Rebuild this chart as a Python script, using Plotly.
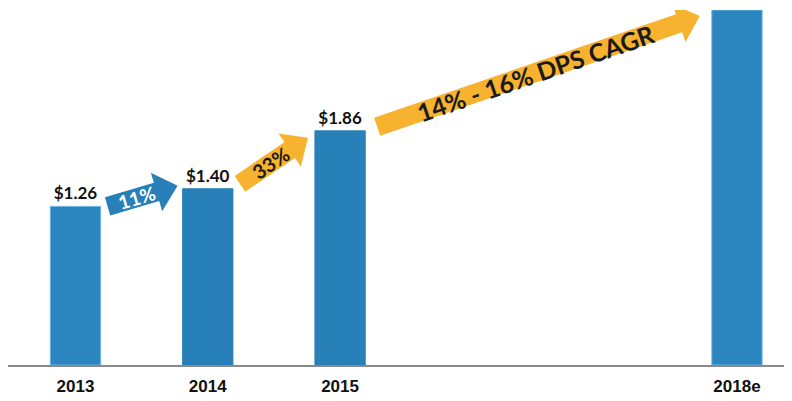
import math
import plotly.graph_objects as go

# ---- data ----
years = [2013, 2014, 2015, 2018]
tick_labels = ["2013", "2014", "2015", "2018e"]
dps = [1.26, 1.40, 1.86, 2.82]
value_labels = ["$1.26", "$1.40", "$1.86", ""]
growth_labels = ["11%", "33%", "14% - 16% DPS CAGR"]

# ---- layout constants (page body adds an 8px offset) ----
W, H = 784, 393
ML, MR, MT, MB = 0, 0, 2, 36
XR = [2012.49, 2018.416]
YR = [0, 2.82]
BAR_W = 0.38
PW, PH = W - ML - MR, H - MT - MB

def x2px(x):
    return ML + (x - XR[0]) / (XR[1] - XR[0]) * PW

def y2px(y):
    return MT + (1 - (y - YR[0]) / (YR[1] - YR[0])) * PH

def px2x(p):
    return XR[0] + (p - ML) / PW * (XR[1] - XR[0])

def px2y(p):
    return YR[0] + (1 - (p - MT) / PH) * (YR[1] - YR[0])

fill_main = "#2b86bf"
fill_mid = "#2780b7"
colors = [fill_main, fill_mid, fill_mid, fill_main]
line_cols = ["#6cb4e0", fill_mid, fill_mid, "#6cb4e0"]

fig = go.Figure()
fig.add_trace(go.Bar(
    x=years, y=dps, width=BAR_W,
    marker=dict(color=colors, line=dict(color=line_cols, width=1)),
    text=value_labels, textposition="outside",
    textfont=dict(family="Lato", size=17, color="#111111", weight="bold"),
    cliponaxis=False, hoverinfo="skip",
))

def arrow(i, j, gap_t, dy_t, gap_h, dy_h, color, label, tcolor, tsize, tfrac):
    # tail / tip anchored to bars i and j (pixel space)
    tx = x2px(years[i] + BAR_W / 2) + gap_t
    ty = y2px(dps[i]) + dy_t
    hx = x2px(years[j] - BAR_W / 2) - gap_h
    hy = y2px(dps[j]) + dy_h
    dx, dy = hx - tx, hy - ty
    L = math.hypot(dx, dy)
    ux, uy = dx / L, dy / L
    nx, ny = -uy, ux
    sh, hw, hl = 9.5, 20, 22
    bx, by = hx - ux * hl, hy - uy * hl
    pts = [
        (tx + nx * sh, ty + ny * sh),
        (bx + nx * sh, by + ny * sh),
        (bx + nx * hw, by + ny * hw),
        (hx, hy),
        (bx - nx * hw, by - ny * hw),
        (bx - nx * sh, by - ny * sh),
        (tx - nx * sh, ty - ny * sh),
    ]
    path = "M " + " L ".join(f"{px2x(p[0])},{px2y(p[1])}" for p in pts) + " Z"
    fig.add_shape(type="path", path=path, xref="x", yref="y",
                  fillcolor=color, line=dict(width=0), layer="above")
    cx, cy = tx + dx * tfrac, ty + dy * tfrac
    ang = math.degrees(math.atan2(dy, dx))
    fig.add_annotation(x=px2x(cx), y=px2y(cy), xref="x", yref="y",
                       text=label, showarrow=False, textangle=ang,
                       font=dict(family="Lato", size=tsize, color=tcolor, weight="bold"))

arrow(0, 1, 7, 0, 5, -3, "#2880b8", growth_labels[0], "white", 19, 0.42)
arrow(1, 2, 7, -5, 7, 7, "#f7b22f", growth_labels[1], "#1a1a1a", 20, 0.45)
arrow(2, 3, 12, -4, 12, 6, "#f7b22f", growth_labels[2], "#1a1a1a", 25, 0.49)

fig.update_layout(
    width=W, height=H,
    margin=dict(l=ML, r=MR, t=MT, b=MB),
    plot_bgcolor="white", paper_bgcolor="white",
    showlegend=False,
    xaxis=dict(range=XR, tickvals=years, ticktext=tick_labels,
               showgrid=False, zeroline=False, showline=True,
               linecolor="#8a8a8a", linewidth=1.5, ticks="", ticklabelstandoff=5,
               tickfont=dict(family="Liberation Sans", size=17,
                             color="#111111", weight="bold")),
    yaxis=dict(range=YR, visible=False, showgrid=False, zeroline=False),
)

fig.write_html("out.html")
